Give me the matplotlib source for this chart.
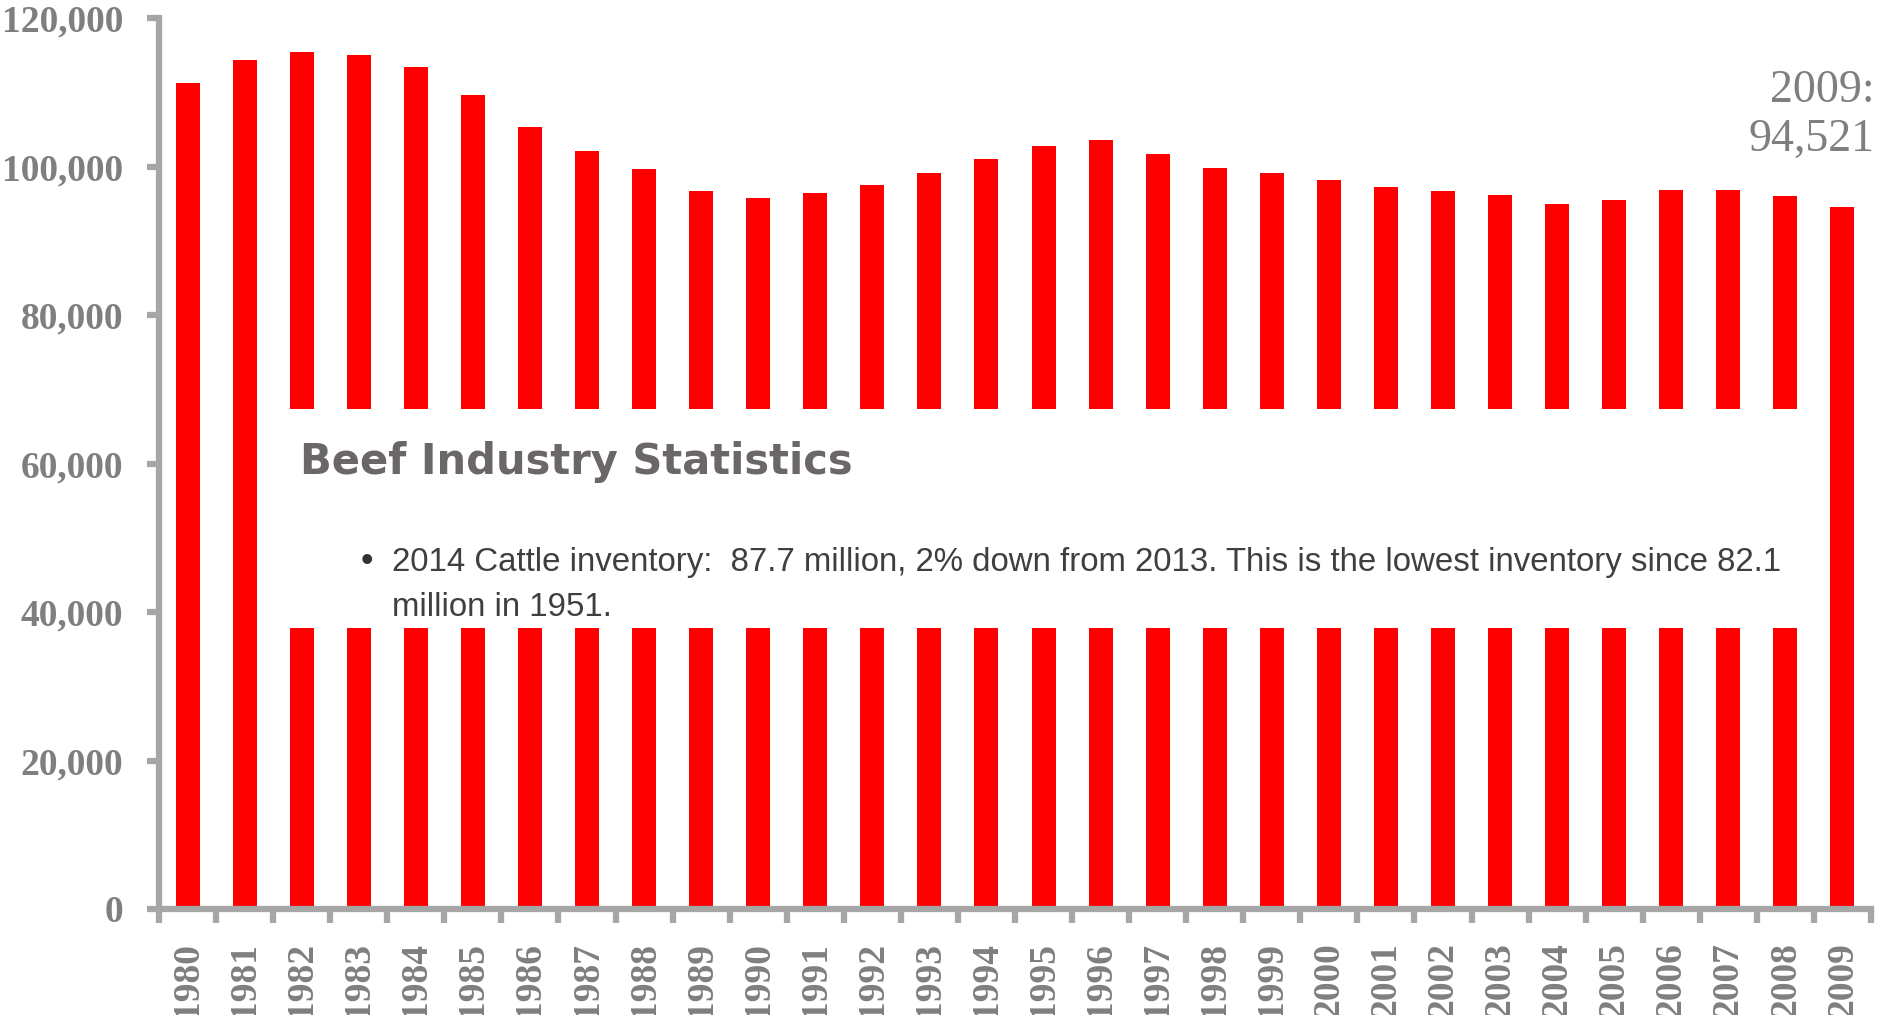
import numpy as np
import matplotlib
matplotlib.use("Agg")
import matplotlib.pyplot as plt
from matplotlib.patches import Rectangle
from matplotlib.ticker import FuncFormatter, FixedLocator

# cattle inventory, thousand head
years = [str(y) for y in range(1980, 2010)]
inventory = [111242, 114351, 115444, 115001, 113360, 109582, 105378, 102118,
             99622, 96740, 95816, 96393, 97556, 99176, 100988, 102755, 103548,
             101656, 99744, 99115, 98199, 97277, 96723, 96100, 94888, 95438,
             96900, 96800, 96035, 94521]
yticks = [0, 20000, 40000, 60000, 80000, 100000, 120000]

# pasted slide text covering the middle of the chart
box_years = (1.5, 28.5)
box_vals = (37800, 67300)
title_txt = "Beef Industry Statistics"
bullet_txt = ["2014 Cattle inventory:  87.7 million, 2% down from 2013. This is the lowest inventory since 82.1",
              "million in 1951."]
note_txt = "2009:\n94,521"

W, H = 1879, 1015
fig = plt.figure(figsize=(W / 100, H / 100), dpi=100)
ax = fig.add_axes([159 / W, 1 - 909 / H, (1871 - 159) / W, (909 - 18) / H])

grey_axis = "#A6A6A6"
grey_txt = "#7F7F7F"

x = np.arange(len(years))
ax.bar(x, inventory, width=0.42, color="#FF0000", zorder=2)

ax.set_xlim(-0.5, len(years) - 0.5)
ax.set_ylim(0, 120000)

for s in ["top", "right"]:
    ax.spines[s].set_visible(False)
for s in ["left", "bottom"]:
    ax.spines[s].set_color(grey_axis)
    ax.spines[s].set_linewidth(4.5)
    ax.spines[s].set_capstyle("projecting")

ax.set_yticks(yticks)
ax.yaxis.set_major_formatter(FuncFormatter(lambda v, p: f"{int(v):,}"))
ax.tick_params(axis="y", length=9, width=4.5, color=grey_axis, pad=17,
               labelsize=27, labelcolor=grey_txt)
for lab in ax.get_yticklabels():
    lab.set_fontfamily("Liberation Serif")
    lab.set_fontweight("bold")

# ticks between bars, labels under bars
ax.xaxis.set_major_locator(FixedLocator(np.arange(-0.5, len(years), 1.0)))
ax.xaxis.set_major_formatter(FuncFormatter(lambda v, p: ""))
ax.xaxis.set_minor_locator(FixedLocator(x))
ax.set_xticks(x, minor=True)
ax.set_xticklabels(years, minor=True, rotation=90, fontsize=27,
                   fontfamily="Liberation Serif", fontweight="bold", color=grey_txt)
ax.tick_params(axis="x", which="major", length=10, width=4.5, color=grey_axis)
ax.tick_params(axis="x", which="minor", length=0, pad=24)

ax.add_patch(Rectangle((box_years[0], box_vals[0]), box_years[1] - box_years[0],
                       box_vals[1] - box_vals[0], facecolor="white",
                       edgecolor="none", zorder=3))

fig.text(300 / W, 1 - 462 / H, title_txt, fontsize=30, fontweight="bold",
         fontfamily="DejaVu Sans", color="#6B6668", va="center", ha="left", zorder=5)
fig.text(367 / W, 1 - 562 / H, "\u2022", fontsize=26, fontfamily="Liberation Sans",
         color="#333333", va="center", ha="center", zorder=5)
fig.text(392 / W, 1 - 562 / H, bullet_txt[0], fontsize=23.8, fontfamily="Liberation Sans",
         color="#3F3F3F", va="center", ha="left", zorder=5)
fig.text(392 / W, 1 - 607 / H, bullet_txt[1], fontsize=23.8, fontfamily="Liberation Sans",
         color="#3F3F3F", va="center", ha="left", zorder=5)

fig.text(1875 / W, 1 - 115 / H, note_txt, fontsize=33, fontfamily="Liberation Serif",
         color=grey_txt, va="center", ha="right", multialignment="right",
         linespacing=1.2)

fig.savefig("out.png", dpi=100, facecolor="white")
